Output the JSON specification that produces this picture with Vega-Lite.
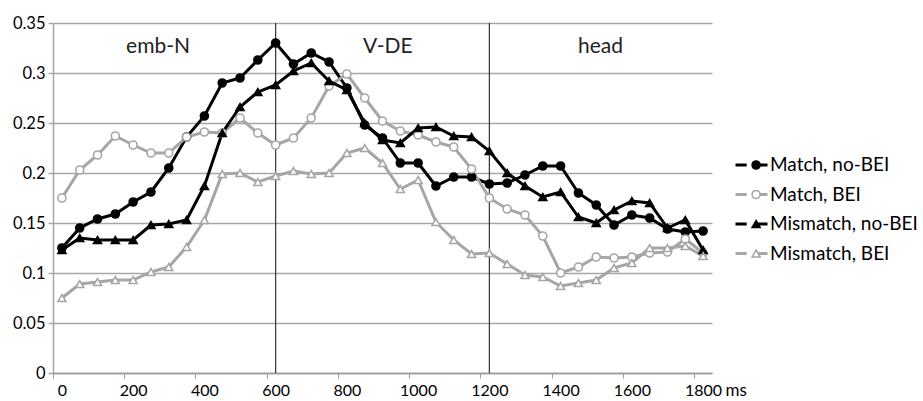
{
  "$schema": "https://vega.github.io/schema/vega-lite/v6.json",
  "width": 659,
  "height": 350,
  "autosize": {"type": "none"},
  "padding": {"left": 53, "top": 23, "right": 211, "bottom": 28},
  "background": "white",
  "config": {"font": "Lato", "view": {"stroke": null}},
  "datasets": {
    "rules": [{"ms": 600}, {"ms": 1200}],
    "regions": [
      {"region": "emb-N", "ms": 270},
      {"region": "V-DE", "ms": 915},
      {"region": "head", "ms": 1512}
    ],
    "series": [
      {"ms": 0, "value": 0.125, "series": "Match, no-BEI"},
      {"ms": 50, "value": 0.145, "series": "Match, no-BEI"},
      {"ms": 100, "value": 0.154, "series": "Match, no-BEI"},
      {"ms": 150, "value": 0.159, "series": "Match, no-BEI"},
      {"ms": 200, "value": 0.171, "series": "Match, no-BEI"},
      {"ms": 250, "value": 0.181, "series": "Match, no-BEI"},
      {"ms": 300, "value": 0.205, "series": "Match, no-BEI"},
      {"ms": 350, "value": 0.236, "series": "Match, no-BEI"},
      {"ms": 400, "value": 0.257, "series": "Match, no-BEI"},
      {"ms": 450, "value": 0.290, "series": "Match, no-BEI"},
      {"ms": 500, "value": 0.295, "series": "Match, no-BEI"},
      {"ms": 550, "value": 0.313, "series": "Match, no-BEI"},
      {"ms": 600, "value": 0.330, "series": "Match, no-BEI"},
      {"ms": 650, "value": 0.309, "series": "Match, no-BEI"},
      {"ms": 700, "value": 0.320, "series": "Match, no-BEI"},
      {"ms": 750, "value": 0.311, "series": "Match, no-BEI"},
      {"ms": 800, "value": 0.285, "series": "Match, no-BEI"},
      {"ms": 850, "value": 0.248, "series": "Match, no-BEI"},
      {"ms": 900, "value": 0.235, "series": "Match, no-BEI"},
      {"ms": 950, "value": 0.210, "series": "Match, no-BEI"},
      {"ms": 1000, "value": 0.210, "series": "Match, no-BEI"},
      {"ms": 1050, "value": 0.187, "series": "Match, no-BEI"},
      {"ms": 1100, "value": 0.196, "series": "Match, no-BEI"},
      {"ms": 1150, "value": 0.196, "series": "Match, no-BEI"},
      {"ms": 1200, "value": 0.189, "series": "Match, no-BEI"},
      {"ms": 1250, "value": 0.190, "series": "Match, no-BEI"},
      {"ms": 1300, "value": 0.198, "series": "Match, no-BEI"},
      {"ms": 1350, "value": 0.207, "series": "Match, no-BEI"},
      {"ms": 1400, "value": 0.207, "series": "Match, no-BEI"},
      {"ms": 1450, "value": 0.180, "series": "Match, no-BEI"},
      {"ms": 1500, "value": 0.168, "series": "Match, no-BEI"},
      {"ms": 1550, "value": 0.148, "series": "Match, no-BEI"},
      {"ms": 1600, "value": 0.158, "series": "Match, no-BEI"},
      {"ms": 1650, "value": 0.155, "series": "Match, no-BEI"},
      {"ms": 1700, "value": 0.144, "series": "Match, no-BEI"},
      {"ms": 1750, "value": 0.141, "series": "Match, no-BEI"},
      {"ms": 1800, "value": 0.142, "series": "Match, no-BEI"},

      {"ms": 0, "value": 0.175, "series": "Match, BEI"},
      {"ms": 50, "value": 0.203, "series": "Match, BEI"},
      {"ms": 100, "value": 0.218, "series": "Match, BEI"},
      {"ms": 150, "value": 0.237, "series": "Match, BEI"},
      {"ms": 200, "value": 0.228, "series": "Match, BEI"},
      {"ms": 250, "value": 0.220, "series": "Match, BEI"},
      {"ms": 300, "value": 0.220, "series": "Match, BEI"},
      {"ms": 350, "value": 0.236, "series": "Match, BEI"},
      {"ms": 400, "value": 0.241, "series": "Match, BEI"},
      {"ms": 450, "value": 0.240, "series": "Match, BEI"},
      {"ms": 500, "value": 0.255, "series": "Match, BEI"},
      {"ms": 550, "value": 0.240, "series": "Match, BEI"},
      {"ms": 600, "value": 0.228, "series": "Match, BEI"},
      {"ms": 650, "value": 0.235, "series": "Match, BEI"},
      {"ms": 700, "value": 0.255, "series": "Match, BEI"},
      {"ms": 750, "value": 0.287, "series": "Match, BEI"},
      {"ms": 800, "value": 0.299, "series": "Match, BEI"},
      {"ms": 850, "value": 0.275, "series": "Match, BEI"},
      {"ms": 900, "value": 0.252, "series": "Match, BEI"},
      {"ms": 950, "value": 0.242, "series": "Match, BEI"},
      {"ms": 1000, "value": 0.238, "series": "Match, BEI"},
      {"ms": 1050, "value": 0.231, "series": "Match, BEI"},
      {"ms": 1100, "value": 0.226, "series": "Match, BEI"},
      {"ms": 1150, "value": 0.204, "series": "Match, BEI"},
      {"ms": 1200, "value": 0.175, "series": "Match, BEI"},
      {"ms": 1250, "value": 0.164, "series": "Match, BEI"},
      {"ms": 1300, "value": 0.158, "series": "Match, BEI"},
      {"ms": 1350, "value": 0.137, "series": "Match, BEI"},
      {"ms": 1400, "value": 0.100, "series": "Match, BEI"},
      {"ms": 1450, "value": 0.106, "series": "Match, BEI"},
      {"ms": 1500, "value": 0.116, "series": "Match, BEI"},
      {"ms": 1550, "value": 0.115, "series": "Match, BEI"},
      {"ms": 1600, "value": 0.116, "series": "Match, BEI"},
      {"ms": 1650, "value": 0.120, "series": "Match, BEI"},
      {"ms": 1700, "value": 0.121, "series": "Match, BEI"},
      {"ms": 1750, "value": 0.134, "series": "Match, BEI"},
      {"ms": 1800, "value": 0.120, "series": "Match, BEI"},

      {"ms": 0, "value": 0.123, "series": "Mismatch, no-BEI"},
      {"ms": 50, "value": 0.135, "series": "Mismatch, no-BEI"},
      {"ms": 100, "value": 0.133, "series": "Mismatch, no-BEI"},
      {"ms": 150, "value": 0.133, "series": "Mismatch, no-BEI"},
      {"ms": 200, "value": 0.133, "series": "Mismatch, no-BEI"},
      {"ms": 250, "value": 0.148, "series": "Mismatch, no-BEI"},
      {"ms": 300, "value": 0.149, "series": "Mismatch, no-BEI"},
      {"ms": 350, "value": 0.153, "series": "Mismatch, no-BEI"},
      {"ms": 400, "value": 0.187, "series": "Mismatch, no-BEI"},
      {"ms": 450, "value": 0.240, "series": "Mismatch, no-BEI"},
      {"ms": 500, "value": 0.266, "series": "Mismatch, no-BEI"},
      {"ms": 550, "value": 0.281, "series": "Mismatch, no-BEI"},
      {"ms": 600, "value": 0.288, "series": "Mismatch, no-BEI"},
      {"ms": 650, "value": 0.302, "series": "Mismatch, no-BEI"},
      {"ms": 700, "value": 0.310, "series": "Mismatch, no-BEI"},
      {"ms": 750, "value": 0.292, "series": "Mismatch, no-BEI"},
      {"ms": 800, "value": 0.283, "series": "Mismatch, no-BEI"},
      {"ms": 850, "value": 0.250, "series": "Mismatch, no-BEI"},
      {"ms": 900, "value": 0.233, "series": "Mismatch, no-BEI"},
      {"ms": 950, "value": 0.230, "series": "Mismatch, no-BEI"},
      {"ms": 1000, "value": 0.245, "series": "Mismatch, no-BEI"},
      {"ms": 1050, "value": 0.246, "series": "Mismatch, no-BEI"},
      {"ms": 1100, "value": 0.237, "series": "Mismatch, no-BEI"},
      {"ms": 1150, "value": 0.236, "series": "Mismatch, no-BEI"},
      {"ms": 1200, "value": 0.222, "series": "Mismatch, no-BEI"},
      {"ms": 1250, "value": 0.200, "series": "Mismatch, no-BEI"},
      {"ms": 1300, "value": 0.187, "series": "Mismatch, no-BEI"},
      {"ms": 1350, "value": 0.176, "series": "Mismatch, no-BEI"},
      {"ms": 1400, "value": 0.181, "series": "Mismatch, no-BEI"},
      {"ms": 1450, "value": 0.156, "series": "Mismatch, no-BEI"},
      {"ms": 1500, "value": 0.150, "series": "Mismatch, no-BEI"},
      {"ms": 1550, "value": 0.163, "series": "Mismatch, no-BEI"},
      {"ms": 1600, "value": 0.172, "series": "Mismatch, no-BEI"},
      {"ms": 1650, "value": 0.170, "series": "Mismatch, no-BEI"},
      {"ms": 1700, "value": 0.145, "series": "Mismatch, no-BEI"},
      {"ms": 1750, "value": 0.153, "series": "Mismatch, no-BEI"},
      {"ms": 1800, "value": 0.123, "series": "Mismatch, no-BEI"},

      {"ms": 0, "value": 0.075, "series": "Mismatch, BEI"},
      {"ms": 50, "value": 0.089, "series": "Mismatch, BEI"},
      {"ms": 100, "value": 0.091, "series": "Mismatch, BEI"},
      {"ms": 150, "value": 0.093, "series": "Mismatch, BEI"},
      {"ms": 200, "value": 0.093, "series": "Mismatch, BEI"},
      {"ms": 250, "value": 0.101, "series": "Mismatch, BEI"},
      {"ms": 300, "value": 0.106, "series": "Mismatch, BEI"},
      {"ms": 350, "value": 0.126, "series": "Mismatch, BEI"},
      {"ms": 400, "value": 0.153, "series": "Mismatch, BEI"},
      {"ms": 450, "value": 0.199, "series": "Mismatch, BEI"},
      {"ms": 500, "value": 0.200, "series": "Mismatch, BEI"},
      {"ms": 550, "value": 0.191, "series": "Mismatch, BEI"},
      {"ms": 600, "value": 0.197, "series": "Mismatch, BEI"},
      {"ms": 650, "value": 0.202, "series": "Mismatch, BEI"},
      {"ms": 700, "value": 0.199, "series": "Mismatch, BEI"},
      {"ms": 750, "value": 0.200, "series": "Mismatch, BEI"},
      {"ms": 800, "value": 0.220, "series": "Mismatch, BEI"},
      {"ms": 850, "value": 0.225, "series": "Mismatch, BEI"},
      {"ms": 900, "value": 0.210, "series": "Mismatch, BEI"},
      {"ms": 950, "value": 0.184, "series": "Mismatch, BEI"},
      {"ms": 1000, "value": 0.193, "series": "Mismatch, BEI"},
      {"ms": 1050, "value": 0.151, "series": "Mismatch, BEI"},
      {"ms": 1100, "value": 0.133, "series": "Mismatch, BEI"},
      {"ms": 1150, "value": 0.119, "series": "Mismatch, BEI"},
      {"ms": 1200, "value": 0.120, "series": "Mismatch, BEI"},
      {"ms": 1250, "value": 0.109, "series": "Mismatch, BEI"},
      {"ms": 1300, "value": 0.098, "series": "Mismatch, BEI"},
      {"ms": 1350, "value": 0.096, "series": "Mismatch, BEI"},
      {"ms": 1400, "value": 0.087, "series": "Mismatch, BEI"},
      {"ms": 1450, "value": 0.090, "series": "Mismatch, BEI"},
      {"ms": 1500, "value": 0.093, "series": "Mismatch, BEI"},
      {"ms": 1550, "value": 0.105, "series": "Mismatch, BEI"},
      {"ms": 1600, "value": 0.110, "series": "Mismatch, BEI"},
      {"ms": 1650, "value": 0.125, "series": "Mismatch, BEI"},
      {"ms": 1700, "value": 0.125, "series": "Mismatch, BEI"},
      {"ms": 1750, "value": 0.127, "series": "Mismatch, BEI"},
      {"ms": 1800, "value": 0.117, "series": "Mismatch, BEI"}
    ]
  },
  "layer": [
    {
      "data": {"name": "series"},
      "mark": {"type": "line", "strokeWidth": 3},
      "encoding": {
        "x": {
          "field": "ms",
          "type": "quantitative",
          "scale": {"domain": [-25, 1825], "nice": false, "zero": false},
          "axis": {
            "values": [0, 50, 100, 150, 200, 250, 300, 350, 400, 450, 500, 550, 600, 650, 700, 750, 800, 850, 900, 950, 1000, 1050, 1100, 1150, 1200, 1250, 1300, 1350, 1400, 1450, 1500, 1550, 1600, 1650, 1700, 1750, 1800, 1850],
            "tickOffset": -8.9,
            "labelOffset": 8.9,
            "format": "d",
            "labelExpr": "(datum.value % 200 === 0 && datum.value <= 1800) ? datum.label : ''",
            "labelOverlap": false,
            "labelFlush": false,
            "grid": false,
            "tickSize": 5,
            "tickColor": "#999999",
            "tickWidth": 1,
            "domainColor": "#999999",
            "domainWidth": 1.5,
            "labelFontSize": 16,
            "labelColor": "#000000",
            "labelPadding": 4,
            "title": "ms",
            "titleX": 672,
            "titleY": 9,
            "titleAlign": "left",
            "titleBaseline": "top",
            "titleFontSize": 17,
            "titleFontWeight": "normal",
            "titleColor": "#000000"
          }
        },
        "y": {
          "field": "value",
          "type": "quantitative",
          "scale": {"domain": [0, 0.35], "nice": false, "zero": true},
          "axis": {
            "values": [0, 0.05, 0.1, 0.15, 0.2, 0.25, 0.3, 0.35],
            "format": "~g",
            "grid": true,
            "gridColor": "#a6a6a6",
            "gridWidth": 1.5,
            "tickSize": 5,
            "tickColor": "#a6a6a6",
            "tickWidth": 1.5,
            "domainColor": "#a6a6a6",
            "domainWidth": 1.5,
            "labelFontSize": 16.5,
            "labelColor": "#000000",
            "labelPadding": 3,
            "title": null
          }
        },
        "color": {
          "field": "series",
          "type": "nominal",
          "sort": ["Match, no-BEI", "Match, BEI", "Mismatch, no-BEI", "Mismatch, BEI"],
          "scale": {"range": ["#000000", "#a6a6a6", "#000000", "#a6a6a6"]},
          "legend": {
            "orient": "none",
            "legendX": 681,
            "legendY": 133,
            "title": null,
            "padding": 0,
            "symbolType": "M-1,0H-0.3M0.3,0H1",
            "symbolSize": 1024,
            "symbolStrokeWidth": 3,
            "labelFontSize": 19,
            "labelColor": "#000000",
            "labelOffset": 1,
            "clipHeight": 18,
            "rowPadding": 10.5
          }
        }
      }
    },
    {
      "data": {"name": "rules"},
      "mark": {"type": "rule", "color": "#333333", "strokeWidth": 1.2},
      "encoding": {
        "x": {"field": "ms", "type": "quantitative"}
      }
    },
    {
      "data": {"name": "regions"},
      "mark": {"type": "text", "fontSize": 21, "baseline": "alphabetic", "align": "center", "color": "#222222"},
      "encoding": {
        "x": {"field": "ms", "type": "quantitative"},
        "y": {"datum": 0.32, "type": "quantitative"},
        "text": {"field": "region", "type": "nominal"}
      }
    },
    {
      "data": {"name": "series"},
      "mark": {"type": "point", "filled": true, "size": 64, "strokeWidth": 1.6, "opacity": 1},
      "encoding": {
        "x": {"field": "ms", "type": "quantitative"},
        "y": {"field": "value", "type": "quantitative"},
        "shape": {
          "field": "series",
          "type": "nominal",
          "scale": {"domain": ["Match, no-BEI", "Match, BEI", "Mismatch, no-BEI", "Mismatch, BEI"], "range": ["circle", "circle", "triangle-up", "triangle-up"]},
          "legend": {"orient": "none", "legendX": 681, "legendY": 133, "title": null, "padding": 0, "symbolSize": 64, "symbolStrokeWidth": 1.6, "symbolOffset": 12.6, "labelOpacity": 0, "labelFontSize": 19, "clipHeight": 18, "rowPadding": 10.5}
        },
        "fill": {
          "field": "series",
          "type": "nominal",
          "scale": {"domain": ["Match, no-BEI", "Match, BEI", "Mismatch, no-BEI", "Mismatch, BEI"], "range": ["#000000", "#ffffff", "#000000", "#ffffff"]},
          "legend": {"orient": "none", "legendX": 681, "legendY": 133, "title": null, "padding": 0, "symbolSize": 64, "symbolStrokeWidth": 1.6, "symbolOffset": 12.6, "labelOpacity": 0, "labelFontSize": 19, "clipHeight": 18, "rowPadding": 10.5}
        },
        "stroke": {
          "field": "series",
          "type": "nominal",
          "scale": {"domain": ["Match, no-BEI", "Match, BEI", "Mismatch, no-BEI", "Mismatch, BEI"], "range": ["#000000", "#a6a6a6", "#000000", "#a6a6a6"]},
          "legend": {"orient": "none", "legendX": 681, "legendY": 133, "title": null, "padding": 0, "symbolSize": 64, "symbolStrokeWidth": 1.6, "symbolOffset": 12.6, "labelOpacity": 0, "labelFontSize": 19, "clipHeight": 18, "rowPadding": 10.5}
        }
      }
    }
  ]
}
